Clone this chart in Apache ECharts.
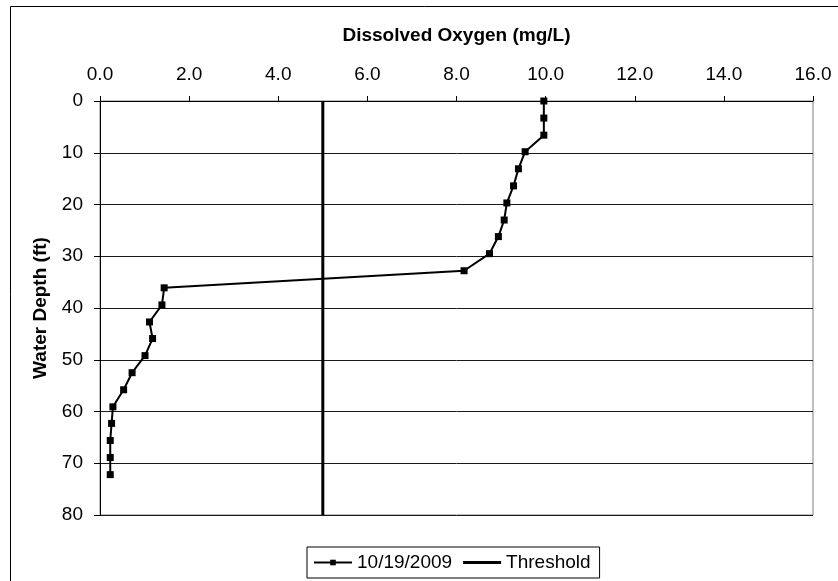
<!DOCTYPE html>
<html>
<head>
<meta charset="utf-8">
<script src="https://cdn.jsdelivr.net/npm/echarts@6/dist/echarts.min.js"></script>
<style>
html,body{margin:0;padding:0;background:#fff;}
#chart{width:838px;height:581px;}
</style>
</head>
<body>
<div id="chart"></div>
<script>
// Water depth (ft) of each measurement
var depths = [0, 3.3, 6.6, 9.8, 13.1, 16.4, 19.7, 23.0, 26.2, 29.5, 32.8, 36.1, 39.4, 42.7, 45.9, 49.2, 52.5, 55.8, 59.1, 62.3, 65.6, 68.9, 72.2];
// Dissolved oxygen (mg/L) on 10/19/2009
var oxygen = [9.96, 9.96, 9.96, 9.54, 9.39, 9.28, 9.13, 9.07, 8.94, 8.74, 8.17, 1.44, 1.39, 1.11, 1.18, 1.01, 0.72, 0.53, 0.29, 0.26, 0.23, 0.23, 0.23];
// Threshold line
var thresholdValue = 5.0;
var thresholdDepths = [0, 80];
var seriesNames = ['10/19/2009', 'Threshold'];

var FONT = '"Liberation Sans", Arial, sans-serif';
var profile = depths.map(function (d, i) { return [oxygen[i], d]; });
var threshold = thresholdDepths.map(function (d) { return [thresholdValue, d]; });

var chart = echarts.init(document.getElementById('chart'), null, {renderer: 'canvas'});
chart.setOption({
  animation: false,
  backgroundColor: '#fff',
  textStyle: {fontFamily: FONT},
  graphic: [{
    type: 'rect', left: 8, top: 4, z: -1,
    shape: {width: 900, height: 700},
    style: {fill: 'none', stroke: '#000', lineWidth: 1}
  }],
  grid: {
    left: 100, top: 101, right: 25, bottom: 66,
    show: true, borderColor: '#808080', borderWidth: 1, backgroundColor: 'transparent'
  },
  legend: {
    data: [
      {name: seriesNames[0]},
      {name: seriesNames[1],
       icon: 'path://M0,0L0.01,0L0,0.01Z M0,2L38,2L38,5L0,5Z M0,7L0.01,7L0,6.99Z'}
    ],
    left: 307, top: 547,
    padding: [6, 9, 6, 6],
    borderColor: '#000', borderWidth: 1,
    itemGap: 11, itemWidth: 38, itemHeight: 7,
    textStyle: {fontFamily: FONT, fontSize: 19, color: '#000'}
  },
  xAxis: {
    type: 'value', position: 'top',
    min: 0, max: 16, interval: 2,
    name: 'Dissolved Oxygen (mg/L)', nameLocation: 'middle', nameGap: 56,
    nameTextStyle: {fontFamily: FONT, fontSize: 19, fontWeight: 'bold', color: '#000'},
    axisLine: {show: true, lineStyle: {color: '#000', width: 1}},
    axisTick: {show: true, inside: false, length: 5, lineStyle: {color: '#000'}},
    axisLabel: {fontFamily: FONT, fontSize: 19, color: '#000', margin: 17,
      formatter: function (v) { return v.toFixed(1); }},
    splitLine: {show: false}
  },
  yAxis: {
    type: 'value', inverse: true,
    min: 0, max: 80, interval: 10,
    name: 'Water Depth (ft)', nameLocation: 'middle', nameGap: 50, nameRotate: 90,
    nameTextStyle: {fontFamily: FONT, fontSize: 19, fontWeight: 'bold', color: '#000'},
    axisLine: {show: true, lineStyle: {color: '#000', width: 1}},
    axisTick: {show: true, inside: false, length: 6, lineStyle: {color: '#000'}},
    axisLabel: {fontFamily: FONT, fontSize: 19, color: '#000', margin: 17},
    splitLine: {show: true, lineStyle: {color: '#1a1a1a', width: 1}}
  },
  series: [{
    name: seriesNames[0], type: 'line', data: profile,
    symbol: 'rect', symbolSize: 7, showSymbol: true,
    lineStyle: {color: '#000', width: 2},
    itemStyle: {color: '#000'},
    z: 3
  }, {
    name: seriesNames[1], type: 'line', data: threshold,
    symbol: 'none', showSymbol: false,
    lineStyle: {color: '#000', width: 3},
    itemStyle: {color: '#000'},
    z: 2
  }]
});
</script>
</body>
</html>
